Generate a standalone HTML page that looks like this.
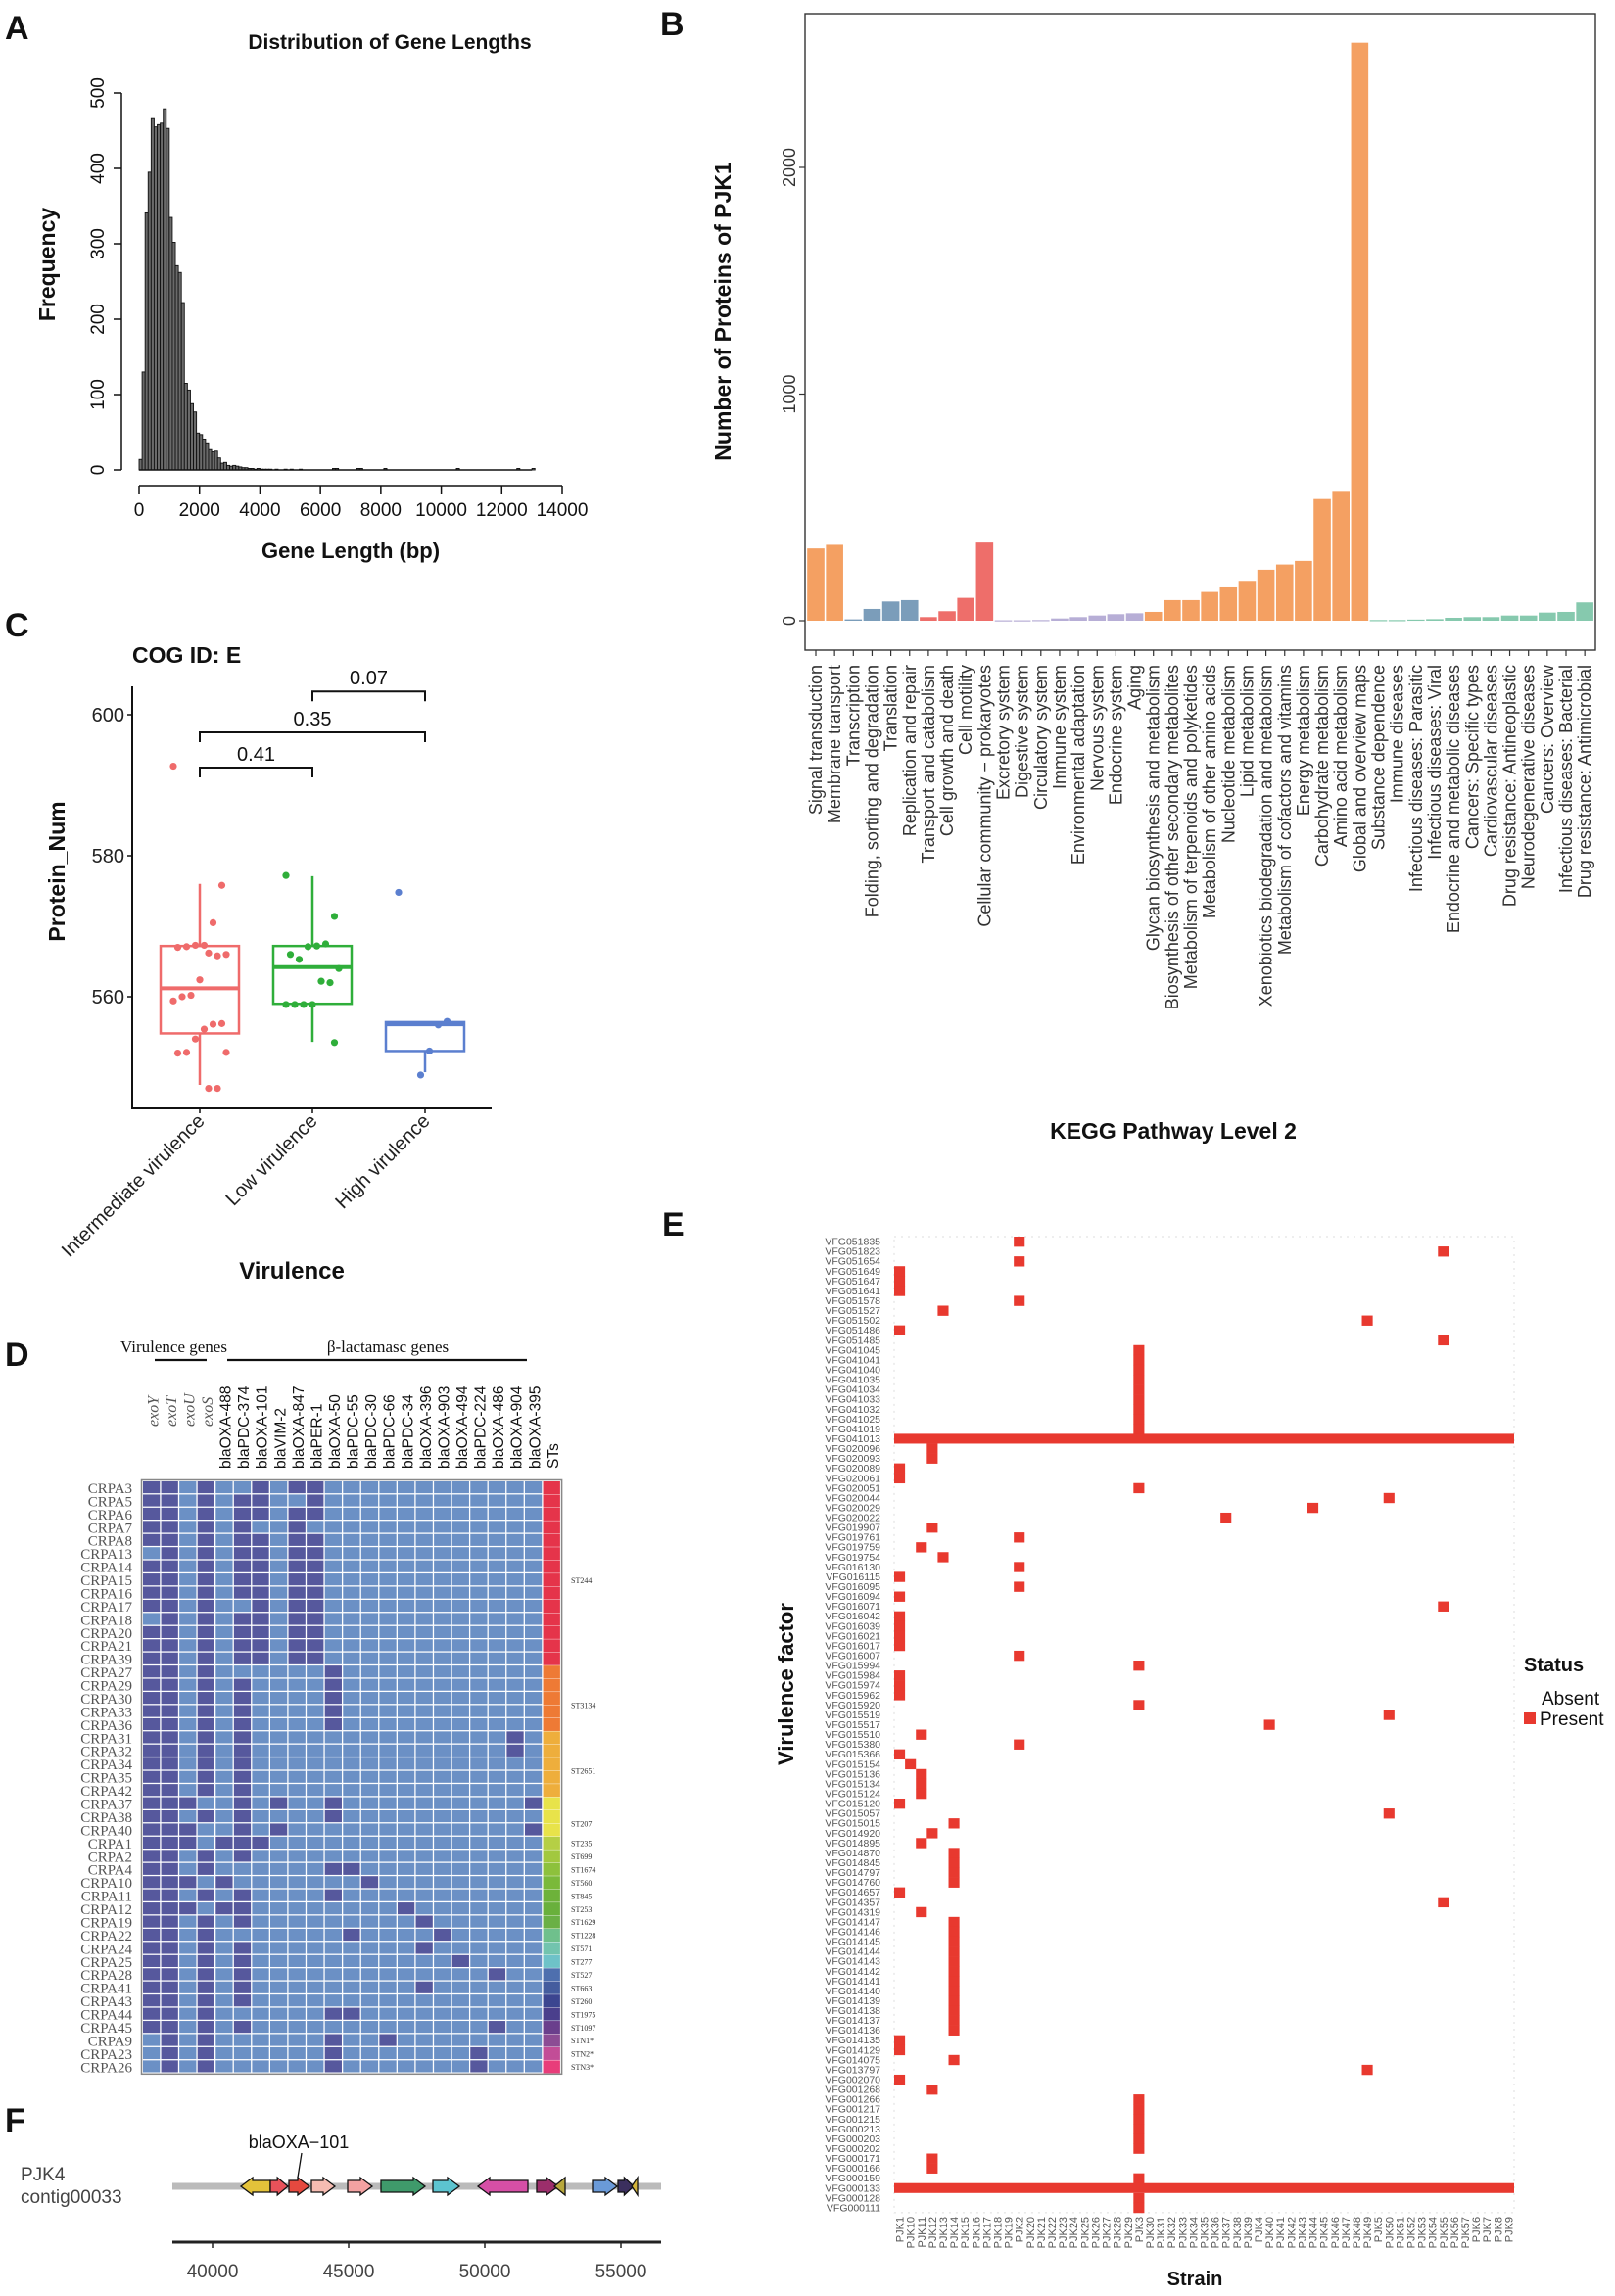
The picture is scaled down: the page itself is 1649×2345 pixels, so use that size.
<!DOCTYPE html>
<html><head><meta charset="utf-8"><style>
html,body{margin:0;padding:0;background:#fff;}
svg{display:block;font-family:"Liberation Sans",sans-serif;}
</style></head><body>
<svg id="fig" width="1649" height="2345" viewBox="0 0 1649 2345" xmlns="http://www.w3.org/2000/svg">
<rect width="1649" height="2345" fill="#fff"/>
<g font-weight="bold" font-size="34" fill="#111">
<text x="5" y="40">A</text>
<text x="674" y="36">B</text>
<text x="5" y="650">C</text>
<text x="5" y="1395">D</text>
<text x="676" y="1262">E</text>
<text x="5" y="2177">F</text>
</g>
<g id="gA"></g>
<g id="gB"></g>
<g id="gC"></g>
<g id="gD"></g>
<g id="gE"></g>
<g id="gF"></g>
</svg>
<script>
// ---------- Panel A data ----------
const histBinWidth = 100;
const histCounts = [14,130,341,395,466,455,458,460,479,453,335,302,271,262,222,115,106,88,77,49,47,41,36,27,24,25,16,9,10,6,5,6,5,4,3,3,2,2,1,2,1,1,1,1,0,1,0,0,1,0,1,0,0,1];
const histTailBins = [64,65,72,73,81,105,125,130];
const histXTicks = [0,2000,4000,6000,8000,10000,12000,14000];
const histYTicks = [0,100,200,300,400,500];
// ---------- Panel B data ----------
const keggCategories = ["Signal transduction","Membrane transport","Transcription","Folding, sorting and degradation","Translation","Replication and repair","Transport and catabolism","Cell growth and death","Cell motility","Cellular community \u2212 prokaryotes","Excretory system","Digestive system","Circulatory system","Immune system","Environmental adaptation","Nervous system","Endocrine system","Aging","Glycan biosynthesis and metabolism","Biosynthesis of other secondary metabolites","Metabolism of terpenoids and polyketides","Metabolism of other amino acids","Nucleotide metabolism","Lipid metabolism","Xenobiotics biodegradation and metabolism","Metabolism of cofactors and vitamins","Energy metabolism","Carbohydrate metabolism","Amino acid metabolism","Global and overview maps","Substance dependence","Immune diseases","Infectious diseases: Parasitic","Infectious diseases: Viral","Endocrine and metabolic diseases","Cancers: Specific types","Cardiovascular diseases","Drug resistance: Antineoplastic","Neurodegenerative diseases","Cancers: Overview","Infectious diseases: Bacterial","Drug resistance: Antimicrobial"];
const keggCounts = [319,335,6,52,85,91,16,42,101,345,2,2,3,10,16,23,29,33,39,91,91,127,147,176,225,248,264,537,573,2550,3,3,5,7,13,16,16,23,23,36,39,81];
const keggGroups = [0,0,1,1,1,1,2,2,2,2,3,3,3,3,3,3,3,3,4,4,4,4,4,4,4,4,4,4,4,4,5,5,5,5,5,5,5,5,5,5,5,5];
const keggYTicks = [0,1000,2000];
// ---------- Panel C data ----------
const cogGroups = ["Intermediate virulence","Low virulence","High virulence"];
const cogMin = [547.5,553.6,549.3];
const cogQ1 = [554.8,559.0,552.3];
const cogMed = [561.2,564.2,556.1];
const cogQ3 = [567.2,567.2,556.4];
const cogMax = [576.0,577.1,556.4];
const cogPointsInter = [592.7,575.8,570.5,567.3,567.3,567.1,567,566,565.8,566.2,562.4,560.2,560,559.4,556.2,556.1,555.4,554,552.1,552,552.1,547,547];
const cogPointsLow = [577.2,571.4,567.5,567.2,567.1,565.3,566,564,562,562.2,558.9,558.9,558.9,558.9,553.5];
const cogPointsHigh = [574.8,556.5,556,552.3,548.9];
const cogYTicks = [560,580,600];
const cogPvals = ["0.41","0.35","0.07"];
const cogPvalLevel = [592.5,597.5,603.3];
const cogPvalFrom = [0,0,1];
const cogPvalTo = [1,2,2];
// ---------- Panel D data ----------
const dCols = ["exoY","exoT","exoU","exoS","blaOXA-488","blaPDC-374","blaOXA-101","blaVIM-2","blaOXA-847","blaPER-1","blaOXA-50","blaPDC-55","blaPDC-30","blaPDC-66","blaPDC-34","blaOXA-396","blaOXA-903","blaOXA-494","blaPDC-224","blaOXA-486","blaOXA-904","blaOXA-395"];
const dRows = ["CRPA3","CRPA5","CRPA6","CRPA7","CRPA8","CRPA13","CRPA14","CRPA15","CRPA16","CRPA17","CRPA18","CRPA20","CRPA21","CRPA39","CRPA27","CRPA29","CRPA30","CRPA33","CRPA36","CRPA31","CRPA32","CRPA34","CRPA35","CRPA42","CRPA37","CRPA38","CRPA40","CRPA1","CRPA2","CRPA4","CRPA10","CRPA11","CRPA12","CRPA19","CRPA22","CRPA24","CRPA25","CRPA28","CRPA41","CRPA43","CRPA44","CRPA45","CRPA9","CRPA23","CRPA26"];
const dPresent = [[0,1,3,6,8,9],[0,1,3,5,6,9],[0,1,3,5,6,8,9],[0,1,3,5,8],[0,1,3,5,6,8,9],[1,3,5,6,8,9],[0,1,3,5,6,8,9],[0,1,3,5,6,8,9],[0,1,3,5,6,8,9],[0,1,3,6,8,9],[1,3,5,6,8,9],[0,1,3,5,6,8,9],[0,1,3,5,6,8,9],[0,1,3,5,6,8,9],
[0,1,3,10],[0,1,3,5,10],[0,1,3,5,10],[0,1,3,5,10],[0,1,3,5,10],
[0,1,3,5,20],[0,1,3,5,20],[0,1,3,5],[0,1,3,5],[0,1,3,5],
[0,1,2,5,7,10,21],[0,1,3,5,10],[0,1,2,5,7,21],
[0,1,2,4,5,6],[0,1,3,5],[0,1,3,10,11],[0,1,2,4,12],[0,1,3,5,10],[0,1,2,4,5,14],[0,1,3,5,15],[0,1,3,11,16],[0,1,3,5,15],[0,1,3,5,17],[0,1,3,5,19],[0,1,3,5,15],[0,1,3,5],[0,1,3,10,11],[0,1,3,5,19],[1,3,10,13],[1,3,10,18],[1,3,10,18]];
const dStColors = ["#e5344a","#e5344a","#e5344a","#e5344a","#e5344a","#e5344a","#e5344a","#e5344a","#e5344a","#e5344a","#e5344a","#e5344a","#e5344a","#e5344a","#ee7a35","#ee7a35","#ee7a35","#ee7a35","#ee7a35","#eeae3c","#eeae3c","#eeae3c","#eeae3c","#eeae3c","#e8e34a","#e8e34a","#e8e34a","#b5cf45","#a2c83f","#8dc13c","#7ab93a","#6db23a","#69b03c","#6ab046","#6fc08c","#72c4ae","#6ec2c8","#4e6fae","#445c9e","#3c4590","#4a3f8c","#6a3f8c","#8c4c94","#c24d97","#e83d7a"];
const dStLabels = ["ST244","ST3134","ST2651","ST207","ST235","ST699","ST1674","ST560","ST845","ST253","ST1629","ST1228","ST571","ST277","ST527","ST663","ST260","ST1975","ST1097","STN1*","STN2*","STN3*"];
const dStLabelRow = [7,16.5,21.5,25.5,27,28,29,30,31,32,33,34,35,36,37,38,39,40,41,42,43,44];
// ---------- Panel E data ----------
const eStrains = ["PJK1","PJK10","PJK11","PJK12","PJK13","PJK14","PJK15","PJK16","PJK17","PJK18","PJK19","PJK2","PJK20","PJK21","PJK22","PJK23","PJK24","PJK25","PJK26","PJK27","PJK28","PJK29","PJK3","PJK30","PJK31","PJK32","PJK33","PJK34","PJK35","PJK36","PJK37","PJK38","PJK39","PJK4","PJK40","PJK41","PJK42","PJK43","PJK44","PJK45","PJK46","PJK47","PJK48","PJK49","PJK5","PJK50","PJK51","PJK52","PJK53","PJK54","PJK55","PJK56","PJK57","PJK6","PJK7","PJK8","PJK9"];
const eFactors = ["VFG051835","VFG051823","VFG051654","VFG051649","VFG051647","VFG051641","VFG051578","VFG051527","VFG051502","VFG051486","VFG051485","VFG041045","VFG041041","VFG041040","VFG041035","VFG041034","VFG041033","VFG041032","VFG041025","VFG041019","VFG041013","VFG020096","VFG020093","VFG020089","VFG020061","VFG020051","VFG020044","VFG020029","VFG020022","VFG019907","VFG019761","VFG019759","VFG019754","VFG016130","VFG016115","VFG016095","VFG016094","VFG016071","VFG016042","VFG016039","VFG016021","VFG016017","VFG016007","VFG015994","VFG015984","VFG015974","VFG015962","VFG015920","VFG015519","VFG015517","VFG015510","VFG015380","VFG015366","VFG015154","VFG015136","VFG015134","VFG015124","VFG015120","VFG015057","VFG015015","VFG014920","VFG014895","VFG014870","VFG014845","VFG014797","VFG014760","VFG014657","VFG014357","VFG014319","VFG014147","VFG014146","VFG014145","VFG014144","VFG014143","VFG014142","VFG014141","VFG014140","VFG014139","VFG014138","VFG014137","VFG014136","VFG014135","VFG014129","VFG014075","VFG013797","VFG002070","VFG001268","VFG001266","VFG001217","VFG001215","VFG000213","VFG000203","VFG000202","VFG000171","VFG000166","VFG000159","VFG000133","VFG000128","VFG000111"];
const ePresentStrain = ["PJK2","PJK55","PJK2","PJK1","PJK1","PJK1","PJK2","PJK13","PJK49","PJK1","PJK55","PJK3","PJK3","PJK3","PJK3","PJK3","PJK3","PJK3","PJK3","PJK3","ALL","PJK12","PJK12","PJK1","PJK1","PJK3","PJK50","PJK44","PJK37","PJK12","PJK2","PJK11","PJK13","PJK2","PJK1","PJK2","PJK1","PJK55","PJK1","PJK1","PJK1","PJK1","PJK2","PJK3","PJK1","PJK1","PJK1","PJK3","PJK50","PJK40","PJK11","PJK2","PJK1","PJK10","PJK11","PJK11","PJK11","PJK1","PJK50","PJK14","PJK12","PJK11","PJK14","PJK14","PJK14","PJK14","PJK1","PJK55","PJK11","PJK14","PJK14","PJK14","PJK14","PJK14","PJK14","PJK14","PJK14","PJK14","PJK14","PJK14","PJK14","PJK1","PJK1","PJK14","PJK49","PJK1","PJK12","PJK3","PJK3","PJK3","PJK3","PJK3","PJK3","PJK12","PJK12","PJK3","ALL","PJK3","PJK3"];
// ---------- Panel F data ----------
const fGeneStart = [41043,42122,42806,43633,44964,46187,48094,49748,51906,52554,53957,54892,55396];
const fGeneEnd =   [42122,42770,43561,44496,45863,47806,49065,51583,52698,52950,54856,55468,55612];
const fGeneStrand = [-1,1,1,1,1,1,1,-1,1,-1,1,1,-1];
const fGeneColors = ["#e3c23a","#e8525a","#e5493f","#f6bcb2","#f3a2a2","#3f9a6b","#5cc4d0","#d64fa6","#9c2e6b","#b8a83c","#6a9ad8","#3b2f5e","#d4b43a"];
const fTicks = [40000,45000,50000,55000];
const fContig = [38525,56475];

const NS="http://www.w3.org/2000/svg";
function el(parent, tag, attrs, txt){const e=document.createElementNS(NS,tag);for(const k in attrs)e.setAttribute(k,attrs[k]);if(txt!==undefined)e.textContent=txt;parent.appendChild(e);return e;}

// ================= Panel A =================
(function(){
const g=document.getElementById('gA');
const xA=v=>142+v*(574-142)/14000, yA=v=>480-v*385/500;
let t=el(g,'text',{x:398,y:50,'text-anchor':'middle','font-size':21,'font-weight':'bold',fill:'#111'},'Distribution of Gene Lengths');


histCounts.forEach((c,i)=>{
 const r=el(g,'rect',{x:xA(i*histBinWidth),y:yA(c),width:xA(histBinWidth)-xA(0),height:yA(0)-yA(c),fill:'#6a6a6a',stroke:'#111','stroke-width':0.9});
 
 
});
histTailBins.forEach(b=>{
 const r=el(g,'rect',{x:xA(b*histBinWidth),y:yA(2),width:xA(histBinWidth)-xA(0),height:yA(0)-yA(2),fill:'#6a6a6a',stroke:'#111','stroke-width':0.9});
 
 
});
let l=el(g,'line',{x1:xA(0),x2:xA(13000),y1:yA(0),y2:yA(0),stroke:'#111','stroke-width':1.5});


l=el(g,'line',{x1:124,x2:124,y1:yA(0),y2:yA(500),stroke:'#111','stroke-width':1.5});


histYTicks.forEach(v=>{
 const k=el(g,'line',{x1:116,x2:124,y1:yA(v),y2:yA(v),stroke:'#111','stroke-width':1.5});
 
 
 const tx=el(g,'text',{x:106,y:yA(v),'text-anchor':'middle','font-size':19,fill:'#111',transform:`rotate(-90 106 ${yA(v)})`},String(v));
 
 
});
l=el(g,'line',{x1:xA(0),x2:xA(14000),y1:496,y2:496,stroke:'#111','stroke-width':1.5});


histXTicks.forEach(v=>{
 const k=el(g,'line',{x1:xA(v),x2:xA(v),y1:496,y2:505,stroke:'#111','stroke-width':1.5});
 
 
 const tx=el(g,'text',{x:xA(v),y:527,'text-anchor':'middle','font-size':19,fill:'#111'},String(v));
 
 
});
t=el(g,'text',{x:358,y:570,'text-anchor':'middle','font-size':22,'font-weight':'bold',fill:'#111'},'Gene Length (bp)');


t=el(g,'text',{x:56,y:270,'text-anchor':'middle','font-size':23,'font-weight':'bold',fill:'#111',transform:'rotate(-90 56 270)'},'Frequency');


})();

// ================= Panel B =================
(function(){
const g=document.getElementById('gB');
const L=822,R=1629,T=14,B=664;
const yB=v=>634-v*0.2315, xB=i=>833+i*19.15;
const colors=["#f4a062","#7b9dba","#ee6e6a","#b7aed6","#f4a062","#86c9ae"];
keggCounts.forEach((v,i)=>{
 const r=el(g,'rect',{x:xB(i)-8.8,y:yB(v),width:17.6,height:Math.max(1.2,yB(0)-yB(v)),fill:colors[keggGroups[i]]});
 
 
 const k=el(g,'line',{x1:xB(i),x2:xB(i),y1:B,y2:B+6,stroke:'#333','stroke-width':1.2});
 
 
 const tx=el(g,'text',{x:xB(i)+6,y:679,'text-anchor':'end','font-size':18,fill:'#333',transform:`rotate(-90 ${xB(i)+6} 679)`},keggCategories[i]);
 
 
});
const bx=el(g,'rect',{x:L,y:T,width:R-L,height:B-T,fill:'none',stroke:'#333','stroke-width':1.4});


keggYTicks.forEach(v=>{
 const k=el(g,'line',{x1:L-6,x2:L,y1:yB(v),y2:yB(v),stroke:'#333','stroke-width':1.2});
 
 
 const tx=el(g,'text',{x:L-10,y:yB(v),'text-anchor':'middle','font-size':18,fill:'#333',transform:`rotate(-90 ${L-10} ${yB(v)})`},String(v));
 
 
});
let t=el(g,'text',{x:746,y:318,'text-anchor':'middle','font-size':23,'font-weight':'bold',fill:'#111',transform:'rotate(-90 746 318)'},'Number of Proteins of PJK1');


t=el(g,'text',{x:1198,y:1163,'text-anchor':'middle','font-size':23,'font-weight':'bold',fill:'#111'},'KEGG Pathway Level 2');


})();

// ================= Panel C =================
(function(){
const g=document.getElementById('gC');
const yv=v=>730+(600-v)*7.2;
const xC=[204,319,434];
const cols=["#ef6b6b","#2fae3a","#5b7fcf"];
let t=el(g,'text',{x:135,y:677,'font-size':23,'font-weight':'bold',fill:'#111'},'COG ID: E');


let l=el(g,'polyline',{points:`135,701 135,1132 502,1132`,fill:'none',stroke:'#111','stroke-width':2});


cogYTicks.forEach(v=>{
 const k=el(g,'line',{x1:130,x2:135,y1:yv(v),y2:yv(v),stroke:'#111','stroke-width':1.5});
 
 
 const tx=el(g,'text',{x:127,y:yv(v)+7,'text-anchor':'end','font-size':20,fill:'#222'},String(v));
 
 
});
const pts=[cogPointsInter,cogPointsLow,cogPointsHigh];
cogGroups.forEach((name,i)=>{
 const c=cols[i],x=xC[i];
 const w=el(g,'line',{x1:x,x2:x,y1:yv(cogMax[i]),y2:yv(cogMin[i]),stroke:c,'stroke-width':2.5});
 
 
 const b=el(g,'rect',{x:x-40,y:yv(cogQ3[i]),width:80,height:Math.max(1,yv(cogQ1[i])-yv(cogQ3[i])),fill:'#fff',stroke:c,'stroke-width':2.5});
 
 
 const m=el(g,'line',{x1:x-40,x2:x+40,y1:yv(cogMed[i]),y2:yv(cogMed[i]),stroke:c,'stroke-width':4});
 
 
 pts[i].forEach((v,j)=>{
  const jit=((j*37)%13-6)*4.5;
  const p=el(g,'circle',{cx:x+jit,cy:yv(v),r:3.6,fill:c});
  
  
 });
 const k=el(g,'line',{x1:x,x2:x,y1:1132,y2:1137,stroke:'#111','stroke-width':1.5});
 
 
 const tx=el(g,'text',{x:x+6,y:1146,'text-anchor':'end','font-size':20,fill:'#222',transform:`rotate(-45 ${x+6} 1146)`},name);
 
 
});
cogPvals.forEach((p,i)=>{
 const y=yv(cogPvalLevel[i]),x1=xC[cogPvalFrom[i]],x2=xC[cogPvalTo[i]];
 const br=el(g,'polyline',{points:`${x1},${y+10} ${x1},${y} ${x2},${y} ${x2},${y+10}`,fill:'none',stroke:'#111','stroke-width':2});
 
 
 const tx=el(g,'text',{x:(x1+x2)/2,y:y-7,'text-anchor':'middle','font-size':20,fill:'#111'},p);
 
 
});
t=el(g,'text',{x:66,y:890,'text-anchor':'middle','font-size':23,'font-weight':'bold',fill:'#111',transform:'rotate(-90 66 890)'},'Protein_Num');


t=el(g,'text',{x:298,y:1306,'text-anchor':'middle','font-size':24,'font-weight':'bold',fill:'#111'},'Virulence');


})();

// ================= Panel D =================
(function(){
const g=document.getElementById('gD');
const L=146,T=1513,cw=18.57,rh=13.44;
let t=el(g,'text',{x:123,y:1381,'font-size':17,'font-family':'Liberation Serif',fill:'#111'},'Virulence  genes');


t=el(g,'text',{x:396,y:1381,'text-anchor':'middle','font-size':17,'font-family':'Liberation Serif',fill:'#111'},'\u03b2-lactamasc genes');


let l=el(g,'line',{x1:158,x2:211,y1:1389,y2:1389,stroke:'#111','stroke-width':2.2});


l=el(g,'line',{x1:232,x2:538,y1:1389,y2:1389,stroke:'#111','stroke-width':2.2});


dCols.concat(["STs"]).forEach((c,j)=>{
 const x=L+cw*(j+0.5)+6;
 const ex=j<4;
 const y=ex?1457:1500;
 const tx=el(g,'text',{x:x,y:y,'font-size':ex?16:15.5,'font-family':ex?'Liberation Serif':'Liberation Sans','font-style':ex?'italic':'normal',fill:ex?'#555':'#111',transform:`rotate(-90 ${x} ${y})`},c);
 
 
});
const bg=el(g,'rect',{x:L-1.5,y:T-1.5,width:cw*23+2,height:rh*45+2,fill:'#fff',stroke:'#888','stroke-width':1.5});


dRows.forEach((r,i)=>{
 const y=T+i*rh;
 for(let j=0;j<22;j++){
  const on=dPresent[i].indexOf(j)>=0;
  const c=el(g,'rect',{x:L+j*cw,y:y,width:cw-1.3,height:rh-1.3,fill:on?'#56589d':'#6b90c5'});
  
  
 }
 const s=el(g,'rect',{x:L+22*cw,y:y,width:cw-1.2,height:rh-0.4,fill:dStColors[i]});
 
 
 const tx=el(g,'text',{x:135,y:y+rh-1.5,'text-anchor':'end','font-size':15,'font-family':'Liberation Serif',fill:'#555'},r);
 
 
});
dStLabels.forEach((s,i)=>{
 const tx=el(g,'text',{x:583,y:T+(dStLabelRow[i]+0.5)*rh+3,'font-size':8,'font-family':'Liberation Serif',fill:'#333'},s);
 
 
});
})();

// ================= Panel E =================
(function(){
const g=document.getElementById('gE');
const L=913,R=1546,T=1263,cw=(R-L)/eStrains.length,rh=10.07;
const fr=el(g,'rect',{x:L,y:T,width:R-L,height:rh*eFactors.length,fill:'none',stroke:'#ddd','stroke-width':1,'stroke-dasharray':'2,5'});


eFactors.forEach((f,i)=>{
 const y=T+i*rh;
 const tx=el(g,'text',{x:899,y:y+rh-1.5,'text-anchor':'end','font-size':10.5,fill:'#555'},f);
 
 
 const s=ePresentStrain[i];
 if(s==='ALL'){
  const c=el(g,'rect',{x:L,y:y,width:R-L,height:rh,fill:'#e8392f'});
  
  
 } else {
  const j=eStrains.indexOf(s);
  const c=el(g,'rect',{x:L+j*cw,y:y,width:cw,height:rh+0.3,fill:'#e8392f'});
  
  
 }
});
const yb=T+rh*eFactors.length+4;
eStrains.forEach((s,j)=>{
 const x=L+(j+0.5)*cw+4;
 const tx=el(g,'text',{x:x,y:yb,'text-anchor':'end','font-size':11,fill:'#555',transform:`rotate(-90 ${x} ${yb})`},s);
 
 
});
let t=el(g,'text',{x:1220,y:2334,'text-anchor':'middle','font-size':20,'font-weight':'bold',fill:'#111'},'Strain');


t=el(g,'text',{x:810,y:1720,'text-anchor':'middle','font-size':22,'font-weight':'bold',fill:'#111',transform:'rotate(-90 810 1720)'},'Virulence factor');


t=el(g,'text',{x:1556,y:1707,'font-size':20,'font-weight':'bold',fill:'#111'},'Status');


t=el(g,'text',{x:1574,y:1741,'font-size':19,fill:'#111'},'Absent');


const sq=el(g,'rect',{x:1556,y:1749,width:12,height:12,fill:'#e8392f'});


t=el(g,'text',{x:1572,y:1762,'font-size':19,fill:'#111'},'Present');


})();

// ================= Panel F =================
(function(){
const g=document.getElementById('gF');
const xF=v=>217+(v-40000)*139/5000;
const yL=2233;
let t=el(g,'text',{x:21,y:2227,'font-size':19,fill:'#444'},'PJK4');


t=el(g,'text',{x:21,y:2250,'font-size':19,fill:'#444'},'contig00033');


let l=el(g,'line',{x1:xF(fContig[0]),x2:xF(fContig[1]),y1:yL,y2:yL,stroke:'#bbb','stroke-width':7});


fGeneStart.forEach((s,i)=>{
 const a=xF(s),b=xF(fGeneEnd[i]),len=b-a,h=len<12?len:Math.min(12,len*0.6);
 let pts;
 if(fGeneStrand[i]>0) pts=`${a},${yL-6} ${b-h},${yL-6} ${b-h},${yL-9} ${b},${yL} ${b-h},${yL+9} ${b-h},${yL+6} ${a},${yL+6}`;
 else pts=`${b},${yL-6} ${a+h},${yL-6} ${a+h},${yL-9} ${a},${yL} ${a+h},${yL+9} ${a+h},${yL+6} ${b},${yL+6}`;
 const p=el(g,'polygon',{points:pts,fill:fGeneColors[i],stroke:'#111','stroke-width':1.3});
 
 
});
t=el(g,'text',{x:305,y:2194,'text-anchor':'middle','font-size':18,fill:'#111'},'blaOXA\u2212101');


l=el(g,'line',{x1:308,x2:304,y1:2199,y2:2224,stroke:'#111','stroke-width':1.3});


l=el(g,'line',{x1:xF(fContig[0]),x2:xF(fContig[1]),y1:2290,y2:2290,stroke:'#222','stroke-width':3});


fTicks.forEach(v=>{
 const k=el(g,'line',{x1:xF(v),x2:xF(v),y1:2290,y2:2296,stroke:'#222','stroke-width':1.5});
 
 
 const tx=el(g,'text',{x:xF(v),y:2326,'text-anchor':'middle','font-size':19,fill:'#444'},String(v));
 
 
});
})();
</script>
</body></html>
